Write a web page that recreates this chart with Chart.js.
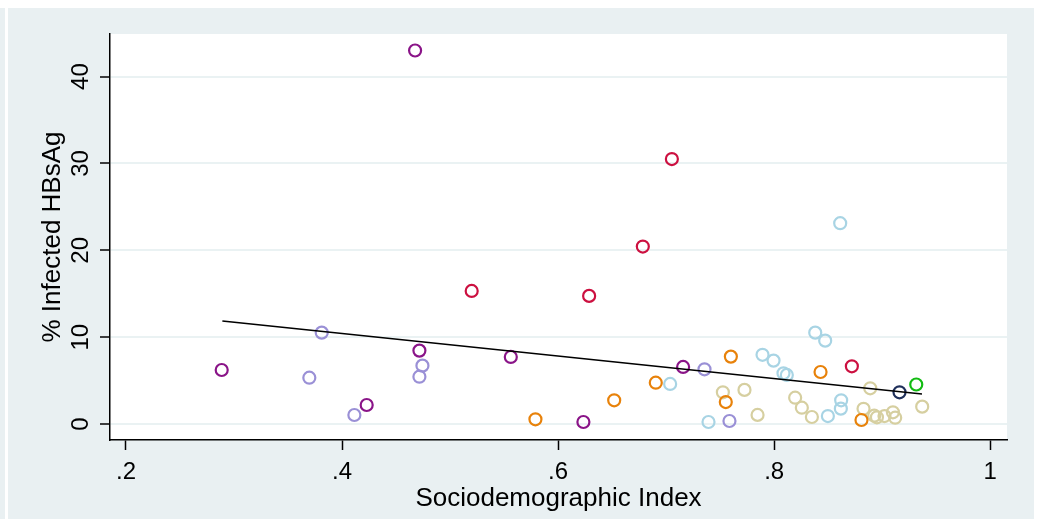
<!DOCTYPE html>
<html>
<head>
<meta charset="utf-8">
<script src="https://cdn.jsdelivr.net/npm/chart.js@4"></script>
<style>
  body { margin: 0; background: #fff; }
  #strip { position: absolute; left: 0; top: 8px; width: 5px; height: 511px; background: #e9f0f2; }
  #wrap { position: absolute; left: 8px; top: 8px; width: 1026px; height: 511px; background: #e9f0f2; }
</style>
</head>
<body>
<div id="strip"></div>
<div id="wrap"><canvas id="sdiChart" width="1026" height="511"></canvas></div>
<script>
// points: [SDI, % infected]
const purplePts = [[0.2886, 6.22], [0.4228, 2.19], [0.4676, 43.0], [0.4716, 8.45], [0.5562, 7.72], [0.6234, 0.23], [0.7157, 6.57]];
const redPts = [[0.520, 15.32], [0.6287, 14.75], [0.6784, 20.43], [0.7053, 30.5], [0.8719, 6.64]];
const lavenderPts = [[0.3697, 5.33], [0.3812, 10.52], [0.4114, 1.04], [0.4716, 5.45], [0.4744, 6.72], [0.7355, 6.30], [0.7586, 0.35]];
const ltbluePts = [[0.7037, 4.61], [0.7392, 0.23], [0.7892, 7.97], [0.7994, 7.30], [0.8086, 5.84], [0.8117, 5.65],
  [0.838, 10.52], [0.8472, 9.60], [0.8497, 0.92], [0.8617, 1.77], [0.862, 2.73], [0.8611, 23.12]];
const orangePts = [[0.579, 0.54], [0.6519, 2.73], [0.6904, 4.76], [0.7599, 7.76], [0.7552, 2.53], [0.8429, 5.99], [0.8808, 0.46]];
const khakiPts = [[0.7525, 3.65], [0.7725, 3.93], [0.7846, 1.05], [0.8194, 3.03], [0.8256, 1.88], [0.8349, 0.81],
  [0.8827, 1.75], [0.8889, 4.11], [0.8926, 0.96], [0.8951, 0.77], [0.9021, 0.92], [0.9099, 1.35], [0.912, 0.73], [0.937, 2.0]];
const navyPts = [[0.916, 3.65]];
const greenPts = [[0.9315, 4.55]];
const fitLine = [[0.2892, 11.87], [0.9368, 3.46]];

const xTicks = [0.2, 0.4, 0.6, 0.8, 1];
const xTickLabels = ['.2', '.4', '.6', '.8', '1'];
const yTicks = [0, 10, 20, 30, 40];
const yTickLabels = ['0', '10', '20', '30', '40'];

Chart.defaults.font.family = "'Liberation Sans', Arial, sans-serif";
Chart.defaults.color = '#000';

function pts(arr) {
  return arr.map(p => ({ x: p[0], y: p[1] }));
}

function group(arr, color) {
  return {
    data: pts(arr),
    borderColor: color,
    backgroundColor: 'rgba(0,0,0,0)',
    pointRadius: 6,
    pointHoverRadius: 6,
    pointBorderWidth: 2.2,
    order: 1
  };
}

// white plot area + rotated y tick labels
const plotBits = {
  id: 'plotBits',
  beforeDraw(chart) {
    const a = chart.chartArea;
    const ctx = chart.ctx;
    ctx.save();
    ctx.fillStyle = '#fff';
    ctx.fillRect(a.left, a.top, a.right - a.left, a.bottom - a.top);
    ctx.restore();
  },
  afterDraw(chart) {
    const s = chart.scales.y;
    const ctx = chart.ctx;
    ctx.save();
    ctx.fillStyle = '#000';
    ctx.font = "24px 'Liberation Sans', Arial, sans-serif";
    ctx.textAlign = 'center';
    ctx.textBaseline = 'middle';
    for (let i = 0; i < yTicks.length; i++) {
      ctx.save();
      ctx.translate(73, s.getPixelForValue(yTicks[i]));
      ctx.rotate(-Math.PI / 2);
      ctx.fillText(yTickLabels[i], 0, 0);
      ctx.restore();
    }
    ctx.restore();
  }
};

new Chart(document.getElementById('sdiChart'), {
  type: 'scatter',
  data: {
    datasets: [
      {
        data: pts(fitLine),
        showLine: true,
        borderColor: '#000',
        borderWidth: 1.5,
        pointRadius: 0,
        order: 0
      },
      group(purplePts, '#8a1488'),
      group(redPts, '#cc1040'),
      group(lavenderPts, '#9a90d6'),
      group(ltbluePts, '#a8d4e4'),
      group(orangePts, '#e8820a'),
      group(khakiPts, '#d6cfa0'),
      group(navyPts, '#1f2f5a'),
      group(greenPts, '#12bb12')
    ]
  },
  options: {
    responsive: false,
    animation: false,
    devicePixelRatio: 1,
    layout: { padding: { left: 0, top: 26, right: 27, bottom: 0 } },
    plugins: { legend: { display: false }, tooltip: { enabled: false } },
    scales: {
      x: {
        type: 'linear',
        min: 0.1852,
        max: 1.0155,
        afterBuildTicks: s => { s.ticks = xTicks.map(v => ({ value: v })); },
        afterFit: s => { s.height = 79; },
        border: { color: '#000', width: 1.5 },
        grid: { drawOnChartArea: false, drawTicks: true, tickLength: 10, tickColor: '#000', tickWidth: 1.5 },
        ticks: {
          font: { size: 24 },
          padding: 8,
          maxRotation: 0,
          callback: (v, i) => xTickLabels[i]
        },
        title: {
          display: true,
          text: 'Sociodemographic Index',
          font: { size: 26 },
          padding: { top: 0, bottom: 5 }
        }
      },
      y: {
        type: 'linear',
        min: -1.84,
        max: 44.9,
        afterBuildTicks: s => { s.ticks = yTicks.map(v => ({ value: v })); },
        afterFit: s => { s.width = 102; },
        border: { color: '#000', width: 1.5 },
        grid: { color: '#eaf2f3', lineWidth: 2, tickLength: 10, tickColor: '#000', tickWidth: 1.5 },
        ticks: { display: false },
        title: {
          display: true,
          text: '% Infected HBsAg',
          font: { size: 26 },
          padding: { top: 29, bottom: 0 }
        }
      }
    }
  },
  plugins: [plotBits]
});
</script>
</body>
</html>
